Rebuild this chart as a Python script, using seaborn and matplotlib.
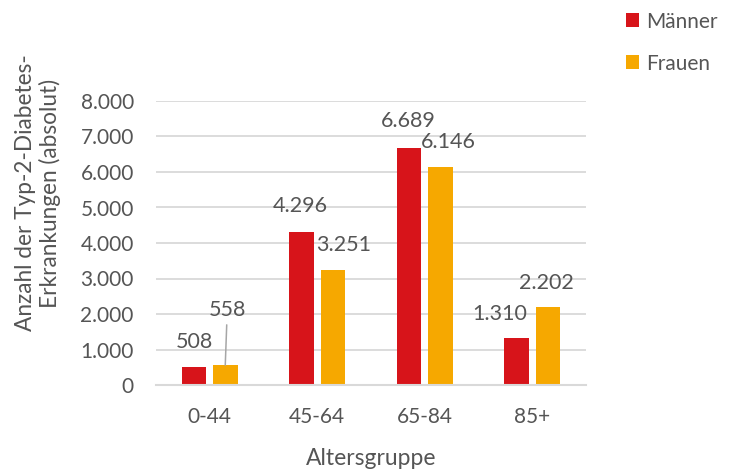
import matplotlib
matplotlib.use("Agg")
import matplotlib.pyplot as plt
from matplotlib.ticker import FuncFormatter, MultipleLocator
import pandas as pd
import seaborn as sns

# Data
age_groups = ["0-44", "45-64", "65-84", "85+"]
series_names = ["Männer", "Frauen"]
maenner = [508, 4296, 6689, 1310]
frauen = [558, 3251, 6146, 2202]

# Label placement (pixel offsets from the top of each bar)
label_offsets = {
    "Männer": [(0, 25), (-1, 26), (-1, 27), (-17, 24)],
    "Frauen": [(2, 55), (11, 25), (8, 25), (-1, 24)],
}

df = pd.DataFrame({
    "Altersgruppe": age_groups * 2,
    "Geschlecht": [series_names[0]] * 4 + [series_names[1]] * 4,
    "Anzahl": maenner + frauen,
})

sns.set_theme(style="white")
font_list = ["Lato", "DejaVu Sans"]
plt.rcParams["font.family"] = font_list
text_color = "#555555"
grid_color = "#D9D9D9"
palette = {"Männer": "#D7141A", "Frauen": "#F6A800"}

fig = plt.figure(figsize=(7.32, 4.70), dpi=100)
ax = fig.add_axes([156 / 732, 1 - 385 / 470, (586 - 156) / 732, (385 - 101) / 470])

sns.barplot(data=df, x="Altersgruppe", y="Anzahl", hue="Geschlecht",
            hue_order=series_names, order=age_groups, palette=palette,
            width=0.577, gap=0.21, ax=ax, saturation=1, edgecolor="none")

ax.set_ylim(0, 8000)
ax.set_xlim(-0.5, 3.5)
ax.yaxis.set_major_locator(MultipleLocator(1000))
ax.yaxis.set_major_formatter(FuncFormatter(lambda v, p: f"{v:,.0f}".replace(",", ".")))
ax.grid(axis="y", color=grid_color, lw=1.3)
ax.set_axisbelow(True)
for s in ["left", "right", "top"]:
    ax.spines[s].set_visible(False)
ax.spines["bottom"].set_color(grid_color)
ax.spines["bottom"].set_linewidth(1.5)
ax.tick_params(axis="both", length=0, labelsize=15, labelcolor=text_color)
ax.tick_params(axis="y", pad=16)
ax.tick_params(axis="x", pad=16)

ax.set_xlabel("Altersgruppe", fontsize=16.5, color=text_color, labelpad=15)
ax.set_ylabel("")
fig.text(38 / 732, 1 - 193 / 470, "Anzahl der Typ-2-Diabetes-\nErkrankungen (absolut)",
         rotation=90, ha="center", va="center", multialignment="center",
         fontsize=16.3, color=text_color, linespacing=1.2)

# Value labels
for container, name in zip(ax.containers, series_names):
    for bar, (dx, dy) in zip(container, label_offsets[name]):
        val = bar.get_height()
        x = bar.get_x() + bar.get_width() / 2
        txt = f"{val:,.0f}".replace(",", ".")
        arrow = None
        if dy > 40:
            arrow = dict(arrowstyle="-", color="#A6A6A6", lw=1.1, shrinkA=1, shrinkB=0)
        ax.annotate(txt, xy=(x, val), xytext=(dx, dy), textcoords="offset pixels",
                    ha="center", va="center", fontsize=15.5, color=text_color,
                    arrowprops=arrow)

# Legend
leg = ax.legend(loc="upper left", bbox_to_anchor=(607 / 732, 1 + 7 / 470),
                bbox_transform=fig.transFigure, frameon=False,
                fontsize=15, handlelength=0.65, handleheight=0.65,
                handletextpad=0.35, labelspacing=1.05, title=None)
for t in leg.get_texts():
    t.set_color(text_color)

fig.savefig("out.png", dpi=100)
